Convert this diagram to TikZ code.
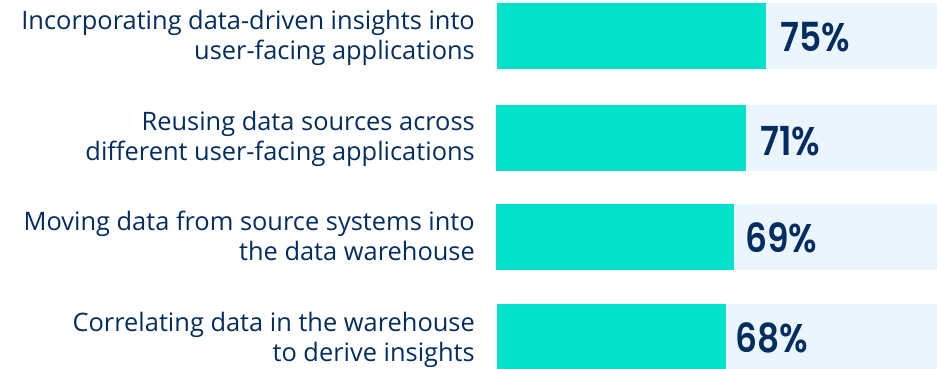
\documentclass[tikz,border=0pt]{standalone}
\usepackage{fontspec}
\setmainfont{Open Sans}
\newfontfamily\pctfont{Poppins}[UprightFont=* SemiBold,FakeStretch=0.86]
\definecolor{teal}{HTML}{04E1CB}
\definecolor{lightbg}{HTML}{EAF5FE}
\definecolor{navy}{HTML}{032D60}
\begin{document}
\begin{tikzpicture}[x=1pt,y=-1pt,
  bgbar/.style={fill=lightbg},
  valbar/.style={fill=teal},
  lbl/.style={anchor=east,align=right,inner sep=0pt,text=navy,font=\fontsize{25.4}{30}\selectfont},
  pct/.style={anchor=base west,inner sep=0pt,text=navy,font=\pctfont\fontsize{40}{40}\selectfont}]
\useasboundingbox (0,0) rectangle (937,369);
% row 1
\fill[bgbar] (497,3) rectangle (937,69);
\fill[valbar] (497,3) rectangle (766,69);
\node[pct] (p1) at (780,52) {75\%};
\node[lbl] (l1) at (475,38) {Incorporating data-driven insights into\\user-facing applications};
% row 2
\fill[bgbar] (496,105) rectangle (937,171);
\fill[valbar] (496,105) rectangle (746,171);
\node[pct] (p2) at (760,155) {71\%};
\node[lbl] (l2) at (475,139) {Reusing data sources across\\different user-facing applications};
% row 3
\fill[bgbar] (496,204) rectangle (937,270);
\fill[valbar] (496,204) rectangle (734,270);
\node[pct] (p3) at (745,252) {69\%};
\node[lbl] (l3) at (475,236) {Moving data from source systems into\\the data warehouse};
% row 4
\fill[bgbar] (497,304) rectangle (937,369);
\fill[valbar] (497,304) rectangle (726,369);
\node[pct] (p4) at (735,352) {68\%};
\node[lbl] (l4) at (475,340) {Correlating data in the warehouse\\to derive insights};
\end{tikzpicture}
\end{document}
